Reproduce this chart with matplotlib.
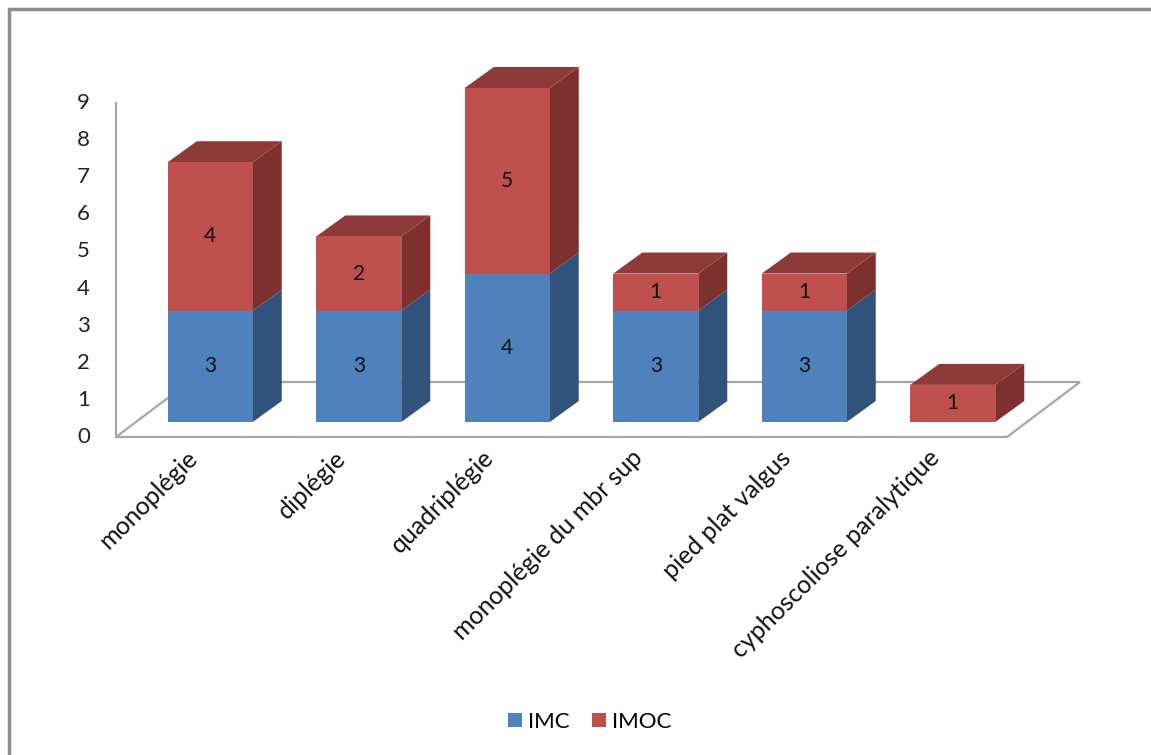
import matplotlib
matplotlib.use("Agg")
import matplotlib.pyplot as plt
from matplotlib.patches import Polygon, Rectangle, Patch
from matplotlib.transforms import ScaledTranslation

# ---- data ----
categories = ["monoplégie", "diplégie", "quadriplégie", "monoplégie du mbr sup",
              "pied plat valgus", "cyphoscoliose paralytique"]
imc = [3, 3, 4, 3, 3, 0]
imoc = [4, 2, 5, 1, 1, 1]
yticks = [0, 1, 2, 3, 4, 5, 6, 7, 8, 9]
series_names = ["IMC", "IMOC"]

# ---- styles ----
FONT = "Lato"
plt.rcParams["font.family"] = [FONT, "DejaVu Sans"]
blue_front, blue_side, blue_top = "#4F81BD", "#31527B", "#3E6797"
red_front, red_side, red_top = "#C0504D", "#7D302E", "#8E3A38"
floor_col = "#A6A6A6"

W, H = 1151, 755
fig = plt.figure(figsize=(W / 100, H / 100), dpi=100)
fig.patch.set_facecolor("white")

# outer border
fig.patches.append(Rectangle((9 / W, -0.1), 1.2, (H - 9) / H + 0.1, transform=fig.transFigure,
                             fill=False, edgecolor="#8C8C8C", lw=2.5))

ax = fig.add_axes([116 / W, (H - 437) / H, 891 / W, 334 / H])
ax.set_xlim(-0.5, 5.5)
ax.set_ylim(0, 9)
ax.axis("off")

px_x = 891 / 6.0   # pixels per x unit
px_y = 334 / 9.0   # pixels per y unit

# floor depth (data units)
FDX, FDY = 73 / px_x, 55 / px_y
# bar depth
BDX, BDY = 29 / px_x, 21 / px_y
bw = 85 / px_x

n = len(categories)
# floor
floor = Polygon([(-0.5, 0), (n - 0.5, 0), (n - 0.5 + FDX, FDY), (-0.5 + FDX, FDY)],
                closed=True, facecolor="white", edgecolor=floor_col, lw=1.6, clip_on=False)
ax.add_patch(floor)
# wall line
ax.plot([-0.5, -0.5], [0, 9], color=floor_col, lw=1.6, clip_on=False)

# y tick labels
tl = ax.transData + ScaledTranslation(-26 / 100, 0, fig.dpi_scale_trans)
for t in yticks:
    ax.text(-0.5, t, str(t), transform=tl, ha="right", va="center", fontsize=16, color="#222222")

# bars, shifted into the middle of the floor depth
shift = ScaledTranslation(20 / 100, 15 / 100, fig.dpi_scale_trans)
tb = ax.transData + shift
xs = list(range(n))

def box(x, bottom, height, side, top, draw_top):
    r = x + bw / 2
    l = x - bw / 2
    t = bottom + height
    ax.add_patch(Polygon([(r, bottom), (r + BDX, bottom + BDY), (r + BDX, t + BDY), (r, t)],
                         closed=True, facecolor=side, edgecolor="none", transform=tb, clip_on=False))
    if draw_top:
        ax.add_patch(Polygon([(l, t), (r, t), (r + BDX, t + BDY), (l + BDX, t + BDY)],
                             closed=True, facecolor=top, edgecolor="none", transform=tb, clip_on=False))

for i, x in enumerate(xs):
    if imc[i] > 0:
        box(x, 0, imc[i], blue_side, blue_top, imoc[i] == 0)
    if imoc[i] > 0:
        box(x, imc[i], imoc[i], red_side, red_top, True)

b1 = ax.bar(xs, imc, width=bw, color=blue_front, clip_on=False, linewidth=0)
b2 = ax.bar(xs, imoc, bottom=imc, width=bw, color=red_front, clip_on=False, linewidth=0)
for b in list(b1) + list(b2):
    b.set_transform(tb)

# value labels
for i, x in enumerate(xs):
    if imc[i] > 0:
        ax.text(x, imc[i] / 2, str(imc[i]), transform=tb, ha="center", va="center",
                fontsize=15, color="#111111")
    if imoc[i] > 0:
        ax.text(x, imc[i] + imoc[i] / 2, str(imoc[i]), transform=tb, ha="center", va="center",
                fontsize=15, color="#111111")

# category labels
tx = ax.transData + ScaledTranslation(-5 / 100, -9 / 100, fig.dpi_scale_trans)
for i, c in enumerate(categories):
    ax.text(i, 0, c, transform=tx, rotation=45, rotation_mode="anchor",
            ha="right", va="top", fontsize=18, color="#111111")

# legend
handles = [Patch(facecolor=blue_front, edgecolor="none"), Patch(facecolor=red_front, edgecolor="none")]
fig.legend(handles, series_names, loc="center", bbox_to_anchor=(590 / W, (H - 722) / H),
           ncol=2, frameon=False, fontsize=16, handlelength=0.6, handleheight=0.6,
           handletextpad=0.3, columnspacing=1.0)

fig.savefig("out.png", dpi=100)
